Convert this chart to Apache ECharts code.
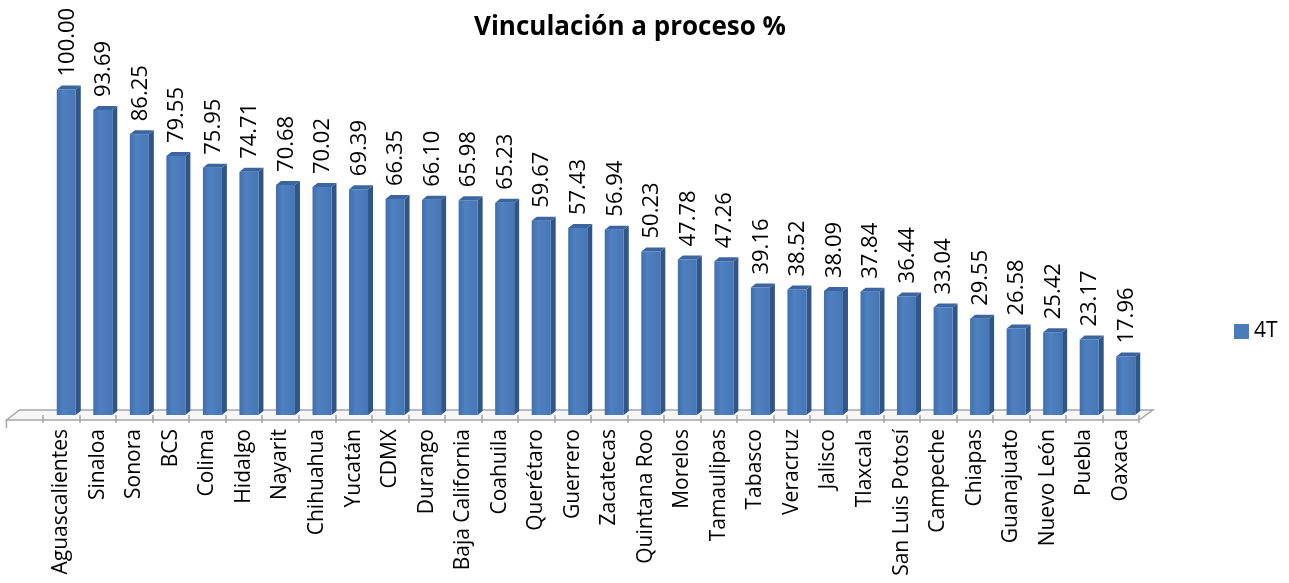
<!DOCTYPE html>
<html>
<head>
<meta charset="utf-8">
<script src="https://cdn.jsdelivr.net/npm/echarts@6/dist/echarts.min.js"></script>
<style>
  html, body { margin: 0; padding: 0; background: #fff; }
  #chart { width: 1289px; height: 583px; }
</style>
</head>
<body>
<div id="chart"></div>
<script>
const estados = ['Aguascalientes', 'Sinaloa', 'Sonora', 'BCS', 'Colima', 'Hidalgo', 'Nayarit', 'Chihuahua',
  'Yucatán', 'CDMX', 'Durango', 'Baja California', 'Coahuila', 'Querétaro', 'Guerrero', 'Zacatecas',
  'Quintana Roo', 'Morelos', 'Tamaulipas', 'Tabasco', 'Veracruz', 'Jalisco', 'Tlaxcala', 'San Luis Potosí',
  'Campeche', 'Chiapas', 'Guanajuato', 'Nuevo León', 'Puebla', 'Oaxaca']
const valores4T = [100.00, 93.69, 86.25, 79.55, 75.95, 74.71, 70.68, 70.02, 69.39, 66.35, 66.10, 65.98, 65.23,
  59.67, 57.43, 56.94, 50.23, 47.78, 47.26, 39.16, 38.52, 38.09, 37.84, 36.44, 33.04, 29.55, 26.58, 25.42,
  23.17, 17.96]

const fontFamily = '"Open Sans", "Liberation Sans", sans-serif'
const axisLineColor = '#a6a6a6'
const depthX = 5 // profundidad 3D
const depthY = 4
const shiftX = 5 // desplazamiento de la barra dentro de la categoria

const chart = echarts.init(document.getElementById('chart'))

function renderBar(params, api) {
  const idx = api.value(0)
  const val = api.value(1)
  const top = api.coord([idx, val])
  const base = api.coord([idx, 0])
  const w = api.size([1, 0])[0] * 0.52
  const x0 = top[0] - w / 2 + shiftX
  const x1 = x0 + w
  const yt = top[1]
  const yb = base[1]
  return {
    type: 'group',
    children: [
      {
        type: 'polygon',
        shape: { points: [[x1, yt], [x1 + depthX, yt - depthY], [x1 + depthX, yb - depthY], [x1, yb]] },
        style: { fill: '#2f5687' }
      },
      {
        type: 'rect',
        shape: { x: x0, y: yt, width: w, height: yb - yt },
        style: {
          fill: new echarts.graphic.LinearGradient(0, 0, 1, 0, [
            { offset: 0, color: '#3f6fae' },
            { offset: 0.35, color: '#4f80c0' },
            { offset: 1, color: '#4676b6' }
          ])
        }
      },
      {
        type: 'polygon',
        shape: { points: [[x0, yt], [x0 + depthX, yt - depthY], [x1 + depthX, yt - depthY], [x1, yt]] },
        style: { fill: '#3a65a0' }
      },
      {
        type: 'text',
        x: (x0 + x1) / 2 + 1,
        y: yt - 13,
        rotation: Math.PI / 2,
        style: {
          text: val.toFixed(2),
          fill: '#000',
          font: '22px ' + fontFamily,
          align: 'left',
          verticalAlign: 'middle'
        }
      }
    ]
  }
}

chart.setOption({
  animation: false,
  title: {
    text: 'Vinculación a proceso %',
    left: 625,
    textAlign: 'center',
    top: 10,
    textStyle: { fontFamily, fontSize: 26, fontWeight: 'bold', color: '#000' }
  },
  legend: {
    data: [{ name: '4T', icon: 'rect' }],
    left: 1229,
    top: 316,
    itemWidth: 15,
    itemHeight: 15,
    itemGap: 6,
    textStyle: { fontFamily, fontSize: 21, color: '#000' }
  },
  grid: {
    left: 43,
    right: 150,
    top: 89.5,
    bottom: 168,
    containLabel: false
  },
  xAxis: {
    type: 'category',
    data: estados,
    offset: 5,
    axisLine: { show: false },
    axisTick: { show: true, length: 8, lineStyle: { color: axisLineColor, width: 1.5 } },
    axisLabel: {
      interval: 0,
      rotate: 90,
      margin: 9,
      fontFamily,
      fontSize: 21,
      color: '#000'
    }
  },
  yAxis: {
    type: 'value',
    min: 0,
    max: 100,
    show: false
  },
  series: [
    {
      name: '4T',
      type: 'custom',
      renderItem: renderBar,
      itemStyle: { color: '#4a7bbb' },
      encode: { x: 0, y: 1 },
      data: valores4T.map((v, i) => [i, v])
    }
  ]
})

// piso 3D
const c0 = chart.convertToPixel({ xAxisIndex: 0 }, 0)
const c1 = chart.convertToPixel({ xAxisIndex: 0 }, 1)
const step = c1 - c0
const yZero = chart.convertToPixel({ yAxisIndex: 0 }, 0)
const frontY = yZero + 5
const backY = yZero - 5
const leftF = c0 - step * 1.5
const rightF = chart.convertToPixel({ xAxisIndex: 0 }, estados.length - 1) + step / 2
chart.setOption({
  graphic: [
    {
      type: 'polygon',
      z: -1,
      shape: { points: [[leftF, frontY], [leftF + 13, backY], [rightF + 14, backY], [rightF, frontY]] },
      style: { fill: '#f7f7f7', stroke: axisLineColor, lineWidth: 1.5 }
    },
    {
      type: 'line',
      shape: { x1: leftF, y1: frontY, x2: leftF, y2: frontY + 8 },
      style: { stroke: axisLineColor, lineWidth: 1.5 }
    }
  ]
})
</script>
</body>
</html>
